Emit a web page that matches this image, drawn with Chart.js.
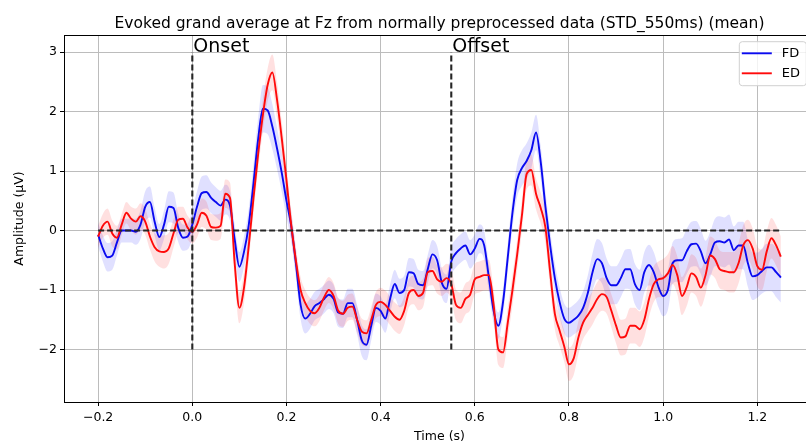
<!DOCTYPE html>
<html>
<head>
<meta charset="utf-8">
<script src="https://cdn.jsdelivr.net/npm/chart.js@4.4.0/dist/chart.umd.min.js"></script>
<style>
  html, body { margin: 0; padding: 0; overflow: hidden; background: #fff; }
  #wrap { width: 816px; height: 444px; }
</style>
</head>
<body>
<div id="wrap"><canvas id="grafico"></canvas></div>
<script>
// amostras a cada 10 ms, de -0.2 s a 1.25 s
const inicio = -0.2
const passo = 0.01

const fdMedia = [
  -0.07,-0.30,-0.45,-0.42,-0.20,0.00,0.00,0.00,-0.02,0.10,
  0.40,0.48,0.15,-0.11,0.10,0.40,0.38,0.05,-0.12,-0.10,
  0.10,0.40,0.63,0.65,0.55,0.48,0.42,0.52,0.42,-0.15,
  -0.61,-0.35,0.10,0.80,1.55,2.05,2.02,1.75,1.38,0.97,
  0.50,0.08,-0.55,-1.25,-1.48,-1.40,-1.27,-1.22,-1.15,-1.08,
  -1.15,-1.38,-1.40,-1.22,-1.22,-1.50,-1.85,-1.92,-1.60,-1.30,
  -1.35,-1.48,-1.15,-0.90,-1.05,-1.00,-0.70,-0.72,-0.90,-0.92,
  -0.65,-0.40,-0.50,-0.88,-0.98,-0.52,-0.38,-0.30,-0.25,-0.40,
  -0.30,-0.14,-0.25,-0.80,-1.35,-1.60,-1.20,-0.45,0.30,0.85,
  1.05,1.17,1.35,1.65,1.15,0.40,-0.25,-0.80,-1.20,-1.48,
  -1.55,-1.50,-1.43,-1.30,-1.05,-0.70,-0.48,-0.55,-0.80,-0.92,
  -0.92,-0.80,-0.65,-0.65,-0.90,-1.00,-0.70,-0.58,-0.70,-0.95,
  -1.10,-1.00,-0.55,-0.50,-0.50,-0.35,-0.23,-0.22,-0.35,-0.55,
  -0.40,-0.20,-0.18,-0.20,-0.15,-0.33,-0.25,-0.25,-0.55,-0.77,
  -0.75,-0.68,-0.62,-0.62,-0.70,-0.79
]
const fdErro = [
  0.20,0.22,0.24,0.24,0.22,0.20,0.20,0.20,0.22,0.24,
  0.26,0.26,0.24,0.22,0.24,0.26,0.26,0.24,0.22,0.22,
  0.24,0.26,0.28,0.28,0.26,0.25,0.25,0.25,0.25,0.25,
  0.25,0.26,0.28,0.32,0.36,0.40,0.40,0.38,0.35,0.32,
  0.28,0.25,0.24,0.24,0.25,0.25,0.24,0.24,0.24,0.24,
  0.24,0.24,0.24,0.24,0.24,0.25,0.26,0.26,0.25,0.24,
  0.24,0.24,0.24,0.24,0.24,0.24,0.24,0.24,0.24,0.24,
  0.24,0.24,0.24,0.24,0.24,0.24,0.24,0.24,0.24,0.24,
  0.24,0.24,0.24,0.24,0.22,0.22,0.22,0.24,0.26,0.28,
  0.30,0.30,0.30,0.30,0.28,0.26,0.25,0.25,0.25,0.25,
  0.25,0.25,0.26,0.28,0.30,0.32,0.34,0.34,0.33,0.32,
  0.32,0.32,0.33,0.34,0.34,0.34,0.34,0.34,0.34,0.34,
  0.34,0.34,0.35,0.36,0.37,0.38,0.38,0.38,0.38,0.38,
  0.38,0.40,0.42,0.42,0.42,0.40,0.40,0.40,0.40,0.40,
  0.38,0.38,0.40,0.40,0.42,0.42
]
const edMedia = [
  -0.10,0.08,0.15,-0.05,-0.12,0.10,0.30,0.20,0.15,0.24,
  0.15,-0.10,-0.28,-0.35,-0.36,-0.30,-0.05,0.18,0.20,0.05,
  -0.02,0.10,0.30,0.25,0.06,0.05,0.08,0.62,0.55,-0.55,
  -1.30,-0.95,-0.25,0.55,1.30,1.95,2.45,2.66,2.20,1.55,
  0.85,0.10,-0.50,-1.00,-1.22,-1.35,-1.39,-1.30,-1.12,-1.00,
  -1.10,-1.35,-1.40,-1.30,-1.28,-1.50,-1.70,-1.73,-1.50,-1.25,
  -1.20,-1.25,-1.35,-1.45,-1.50,-1.35,-1.05,-1.00,-1.10,-1.05,
  -0.70,-0.68,-0.82,-0.86,-0.80,-0.90,-1.25,-1.30,-1.15,-1.08,
  -0.82,-0.78,-0.75,-0.75,-1.25,-2.00,-2.05,-1.55,-1.00,-0.40,
  0.25,0.95,1.02,0.62,0.38,0.05,-0.70,-1.40,-1.68,-1.95,
  -2.25,-2.15,-1.80,-1.55,-1.42,-1.30,-1.15,-1.07,-1.12,-1.35,
  -1.60,-1.80,-1.78,-1.60,-1.60,-1.66,-1.50,-1.15,-0.90,-0.82,
  -0.80,-0.72,-0.58,-0.75,-1.10,-0.95,-0.72,-0.78,-0.96,-0.75,
  -0.42,-0.48,-0.65,-0.68,-0.70,-0.70,-0.55,-0.25,-0.16,-0.30,
  -0.60,-0.66,-0.35,-0.13,-0.25,-0.44
]
const edErro = [
  0.18,0.20,0.22,0.22,0.20,0.18,0.18,0.20,0.22,0.22,
  0.22,0.22,0.24,0.26,0.28,0.26,0.24,0.22,0.20,0.20,
  0.20,0.22,0.24,0.24,0.22,0.22,0.22,0.24,0.26,0.26,
  0.26,0.26,0.25,0.25,0.26,0.27,0.28,0.30,0.30,0.28,
  0.26,0.24,0.22,0.22,0.22,0.22,0.22,0.22,0.22,0.22,
  0.22,0.22,0.22,0.22,0.22,0.22,0.22,0.22,0.22,0.22,
  0.24,0.24,0.24,0.24,0.24,0.24,0.24,0.24,0.24,0.24,
  0.24,0.24,0.24,0.24,0.24,0.26,0.26,0.26,0.26,0.26,
  0.26,0.26,0.26,0.26,0.26,0.26,0.26,0.26,0.26,0.26,
  0.26,0.26,0.26,0.26,0.26,0.26,0.26,0.26,0.26,0.26,
  0.28,0.28,0.28,0.28,0.28,0.28,0.28,0.28,0.28,0.28,
  0.30,0.30,0.30,0.30,0.30,0.30,0.30,0.30,0.30,0.30,
  0.32,0.32,0.32,0.32,0.32,0.32,0.32,0.32,0.32,0.32,
  0.32,0.32,0.32,0.32,0.34,0.34,0.34,0.34,0.34,0.34,
  0.34,0.34,0.34,0.34,0.34,0.34
]

// linhas tracejadas de onset / offset / zero
const onsetLinha = [{x: 0, y: -2}, {x: 0, y: 3}]
const offsetLinha = [{x: 0.55, y: -2}, {x: 0.55, y: 3}]
const zeroLinha = [{x: -0.2, y: 0}, {x: 1.25, y: 0}]
const marcadores = [{texto: 'Onset', x: 0, y: 3}, {texto: 'Offset', x: 0.55, y: 3}]

const titulo = 'Evoked grand average at Fz from normally preprocessed data (STD_550ms) (mean)'
const fonte = 'DejaVu Sans'

let tempos = []
for (let i = 0; i < fdMedia.length; i++) {
  tempos.push(Math.round((inicio + i * passo) * 100) / 100)
}

function pontos(valores, erro, sinal) {
  return valores.map((v, i) => ({x: tempos[i], y: v + sinal * (erro ? erro[i] : 0)}))
}

function faixa(valores, erro, cor, ordem) {
  const base = {
    borderWidth: 0, pointRadius: 0, tension: 0.4,
    cubicInterpolationMode: 'monotone', backgroundColor: cor, order: ordem
  }
  return [
    Object.assign({label: 'sup', data: pontos(valores, erro, 1), fill: '+1'}, base),
    Object.assign({label: 'inf', data: pontos(valores, erro, -1), fill: false}, base)
  ]
}

function linha(label, valores, cor, ordem) {
  return {
    label: label, data: pontos(valores, null, 0), borderColor: cor, borderWidth: 1.9,
    pointRadius: 0, tension: 0.4, cubicInterpolationMode: 'monotone', fill: false, order: ordem
  }
}

function tracejada(dados) {
  return {
    label: 'marca', data: dados, borderColor: '#262626', borderWidth: 2.1,
    borderDash: [6, 3], pointRadius: 0, fill: false, order: -1
  }
}

const datasets = [
  ...faixa(fdMedia, fdErro, 'rgba(0,0,255,0.12)', 5),
  ...faixa(edMedia, edErro, 'rgba(255,0,0,0.12)', 4),
  linha('FD', fdMedia, '#0a0af0', 1),
  linha('ED', edMedia, '#ff0a0a', 0),
  tracejada(onsetLinha),
  tracejada(offsetLinha),
  tracejada(zeroLinha)
]

const extras = {
  id: 'extras',
  afterDatasetsDraw(chart) {
    const {ctx, chartArea, scales} = chart
    ctx.save()
    // moldura dos eixos
    ctx.strokeStyle = '#000'
    ctx.lineWidth = 1
    ctx.strokeRect(chartArea.left + 0.5, chartArea.top + 0.5, chartArea.right - chartArea.left, chartArea.bottom - chartArea.top)
    // onset / offset
    ctx.fillStyle = '#000'
    ctx.font = '19px "' + fonte + '"'
    ctx.textBaseline = 'alphabetic'
    ctx.textAlign = 'left'
    marcadores.forEach(m => {
      ctx.fillText(m.texto, scales.x.getPixelForValue(m.x) + 1, scales.y.getPixelForValue(m.y))
    })
    // titulo
    ctx.font = '15.5px "' + fonte + '"'
    ctx.textAlign = 'center'
    ctx.fillText(titulo, (chartArea.left + chartArea.right) / 2, chartArea.top - 6.7)
    // legenda
    const bx = chartArea.right - 75.7
    const by = chartArea.top + 6.7
    ctx.fillStyle = 'rgba(255,255,255,0.8)'
    ctx.strokeStyle = '#d0d0d0'
    ctx.beginPath()
    ctx.roundRect(bx, by, 67, 44, 3)
    ctx.fill()
    ctx.stroke()
    const itens = [['FD', '#0a0af0'], ['ED', '#ff0a0a']]
    ctx.font = '13px "' + fonte + '"'
    ctx.textAlign = 'left'
    ctx.textBaseline = 'middle'
    itens.forEach((it, i) => {
      const yy = by + 11.6 + i * 20
      ctx.strokeStyle = it[1]
      ctx.lineWidth = 1.9
      ctx.beginPath()
      ctx.moveTo(bx + 2.5, yy)
      ctx.lineTo(bx + 32.5, yy)
      ctx.stroke()
      ctx.fillStyle = '#000'
      ctx.fillText(it[0], bx + 42.5, yy + 0.5)
    })
    ctx.restore()
  }
}

const menos = v => String(v).replace('-', '\u2212')

const config = {
  type: 'line',
  data: {datasets: datasets},
  options: {
    responsive: true,
    maintainAspectRatio: false,
    animation: false,
    layout: {padding: {top: 35, right: 1, bottom: 0, left: 0}},
    plugins: {legend: {display: false}, tooltip: {enabled: false}},
    scales: {
      x: {
        type: 'linear', min: -0.2725, max: 1.3225,
        ticks: {
          stepSize: 0.2, includeBounds: false, color: '#000', padding: 4,
          font: {family: fonte, size: 12.5},
          callback: v => menos((Math.round(v * 10) / 10).toFixed(1))
        },
        grid: {color: '#bcbcbc', lineWidth: 1, tickLength: 4, tickColor: '#000'},
        border: {color: '#000', width: 1},
        title: {display: true, text: 'Time (s)', color: '#000', font: {family: fonte, size: 12.5}, padding: {top: 0, bottom: 0}},
        afterFit: s => { s.height = 42 }
      },
      y: {
        min: -2.884, max: 3.29,
        ticks: {
          stepSize: 1, includeBounds: false, color: '#000', padding: 3,
          font: {family: fonte, size: 12.5},
          callback: v => menos(Math.round(v))
        },
        grid: {color: '#bcbcbc', lineWidth: 1, tickLength: 4, tickColor: '#000'},
        border: {color: '#000', width: 1},
        title: {display: true, text: 'Amplitude (\u00b5V)', color: '#000', font: {family: fonte, size: 12.5}, padding: {top: 12, bottom: 0}},
        afterFit: s => { s.width = 64 }
      }
    }
  },
  plugins: [extras]
}

new Chart(document.getElementById('grafico'), config)
</script>
</body>
</html>
